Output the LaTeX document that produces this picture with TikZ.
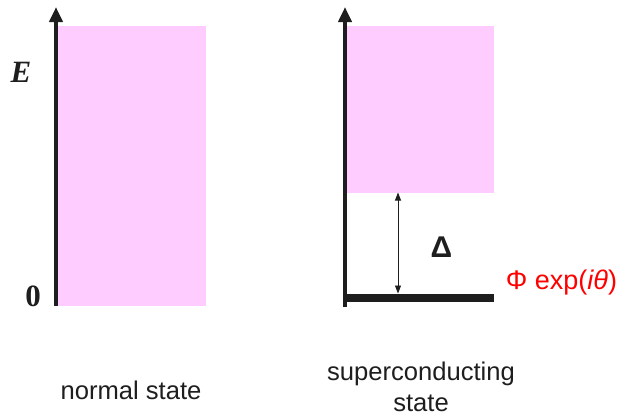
\documentclass[tikz,border=0pt]{standalone}
\usepackage{fontspec}
\setmainfont{Liberation Serif}
\setsansfont{Liberation Sans}
\usepackage{tikz}
\usetikzlibrary{arrows.meta, positioning, calc}
\usepackage{xcolor}
\definecolor{bandpink}{RGB}{255,204,255}
\definecolor{axisgray}{RGB}{30,30,30}
\definecolor{phasered}{RGB}{255,0,0}

\begin{document}
\begin{tikzpicture}[x=1pt, y=-1pt,
    axis/.style={axisgray, line width=4.5pt, -{Triangle[width=13pt,length=15pt]}},
    band/.style={fill=bandpink, draw=none},
    lbl/.style={font=\sffamily\fontsize{25.6}{25.6}\selectfont, text=axisgray, inner sep=0pt, anchor=base}]
  \useasboundingbox (0,0) rectangle (621,416);
  % Normal state: continuum from zero
  \fill[band] (58,26) rectangle (206,306);
  \draw[axis] (56,306) -- (56,7);
  \node[font=\bfseries\itshape\fontsize{31}{31}\selectfont, text=axisgray, inner sep=0pt, anchor=base] (elabel) at (21,82) {E};
  \node[font=\bfseries\fontsize{31}{31}\selectfont, text=axisgray, inner sep=0pt, anchor=base] (zerolabel) at (33,306) {0};
  \node[lbl] (normal) at (131,399) {normal state};
  % Superconducting state: gapped continuum + condensate
  \fill[band] (347,26) rectangle (494,192.5);
  \draw[axis] (345,307) -- (345,7);
  \draw[axisgray, line width=8pt] (343,297.5) -- (494,297.5);
  \coordinate (gaptop) at (398,192.5);
  \coordinate (gapbot) at (398,293.5);
  \draw[axisgray, line width=0.8pt, {Triangle[width=6pt,length=8pt]}-{Triangle[width=6pt,length=8pt]}] (gaptop) -- (gapbot);
  \node[font=\sffamily\bfseries\fontsize{30}{30}\selectfont, text=axisgray, inner sep=0pt, anchor=base] (gap) at (441.5,257) {Δ};
  \node[font=\sffamily\fontsize{27}{27}\selectfont, text=phasered, inner sep=0pt, anchor=base] (phase) at (561.5,289) {Φ exp(\textit{iθ})};
  \node[lbl] (super) at (421,380) {superconducting};
  \node[lbl] (state) at (421,411) {state};
\end{tikzpicture}
\end{document}
